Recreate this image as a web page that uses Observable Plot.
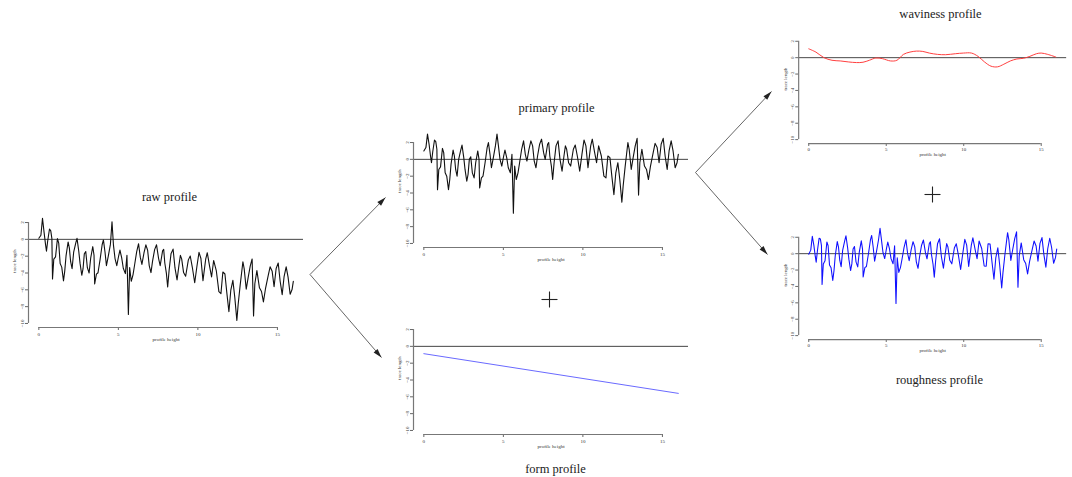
<!DOCTYPE html>
<html><head><meta charset="utf-8">
<script src="https://cdn.jsdelivr.net/npm/d3@7"></script>
<script src="https://cdn.jsdelivr.net/npm/@observablehq/plot@0.6"></script>
<style>
html,body{margin:0;padding:0;background:#fff;}
#page{position:relative;width:1072px;height:477px;overflow:hidden;}
.panel{position:absolute;}
.overlay{position:absolute;left:0;top:0;pointer-events:none;}
</style></head><body><div id="page"></div>
<script>
// ---- data ----
const xs = [0,0.13,0.23,0.33,0.42,0.48,0.56,0.67,0.75,0.82,
0.86,0.94,1.05,1.17,1.25,1.34,1.44,1.55,1.63,1.71,
1.84,1.92,2.00,2.09,2.19,2.32,2.40,2.51,2.59,2.70,
2.78,2.86,2.95,3.05,3.16,3.26,3.39,3.47,3.51,3.62,
3.72,3.85,3.98,4.06,4.16,4.25,4.37,4.50,4.60,4.69,
4.79,4.90,5.02,5.10,5.21,5.31,5.44,5.54,5.63,5.71,
5.81,5.92,6.02,6.15,6.27,6.38,6.48,6.61,6.73,6.84,
6.94,7.05,7.15,7.28,7.40,7.53,7.63,7.78,7.85,7.92,
8.02,8.10,8.19,8.31,8.44,8.56,8.69,8.81,8.90,8.98,
9.10,9.23,9.40,9.52,9.65,9.80,9.94,10.07,10.19,10.32,
10.49,10.59,10.74,10.86,10.99,11.16,11.32,11.45,11.57,11.70,
11.82,11.95,12.07,12.20,12.32,12.45,12.53,12.66,12.83,12.91,
13.04,13.16,13.29,13.41,13.50,13.58,13.71,13.87,14.00,14.12,
14.25,14.42,14.54,14.67,14.79,14.92,15.05,15.17,15.30,15.42,
15.55,15.67,15.80,15.92,16.00];

const rawValues = [0.13,0.49,2.5,0.83,-0.59,-1.41,-0.14,1.23,1.01,0.09,
-4.72,-2.35,-2.08,0.09,-0.44,-2.87,-3.30,-4.93,-3.75,-1.97,
-0.31,-1.04,-2.66,-3.49,-1.52,-0.45,0.12,-1.41,-2.83,-4.27,
-3.49,-1.71,-1.44,-3.37,-4.00,-2.23,-0.87,-1.89,-5.31,-4.14,
-3.97,-2.41,-0.64,-0.07,-1.50,-3.12,-1.96,-0.60,2.1,-0.65,
-2.28,-3.12,-1.95,-1.27,-2.21,-3.44,-4.07,-1.90,-8.93,-3.35,
-4.98,-4.22,-3.05,-1.48,-0.52,-2.15,-2.98,-1.62,-0.66,-1.29,
-3.12,-3.95,-2.58,-1.22,-0.65,-2.29,-3.12,-1.37,-1.19,-2.81,
-4.04,-5.66,-3.69,-1.72,-1.16,-3.40,-4.83,-3.07,-1.90,-2.32,
-3.95,-4.39,-2.44,-1.98,-3.32,-5.16,-3.20,-1.54,-2.28,-4.91,
-2.36,-1.59,-3.24,-4.47,-2.51,-3.76,-6.21,-6.45,-3.88,-4.12,
-6.36,-8.60,-6.03,-4.87,-6.90,-9.64,-7.77,-5.41,-2.66,-3.48,
-5.92,-4.55,-3.19,-2.33,-9.10,-5.28,-3.71,-5.76,-6.20,-7.44,
-5.87,-4.32,-3.26,-3.80,-5.63,-3.47,-2.81,-4.95,-6.58,-4.42,
-3.26,-4.49,-6.53,-5.97,-4.99];

const primaryValues = [1.0,1.4,3.0,1.8,0.4,-0.4,0.9,2.3,2.1,1.2,
-3.6,-1.2,-0.9,1.3,0.8,-1.6,-2.0,-3.6,-2.4,-0.6,
1.1,0.4,-1.2,-2.0,0.0,1.1,1.7,0.2,-1.2,-2.6,
-1.8,0.0,0.3,-1.6,-2.2,-0.4,1.0,0.0,-3.4,-2.2,
-2.0,-0.4,1.4,2.0,0.6,-1.0,0.2,1.6,3.0,1.6,
0.0,-0.8,0.4,1.1,0.2,-1.0,-1.6,0.6,-6.4,-0.8,
-2.4,-1.6,-0.4,1.2,2.2,0.6,-0.2,1.2,2.2,1.6,
-0.2,-1.0,0.4,1.8,2.4,0.8,0.0,1.8,2.0,0.4,
-0.8,-2.4,-0.4,1.6,2.2,0.0,-1.4,0.4,1.6,1.2,
-0.4,-0.8,1.2,1.7,0.4,-1.4,0.6,2.3,1.6,-1.0,
1.6,2.4,0.8,-0.4,1.6,0.4,-2.0,-2.2,0.4,0.2,
-2.0,-4.2,-1.6,-0.4,-2.4,-5.1,-3.2,-0.8,2.0,1.2,
-1.2,0.2,1.6,2.5,-4.25,-0.4,1.2,-0.8,-1.2,-2.4,
-0.8,0.8,1.9,1.4,-0.4,1.8,2.5,0.4,-1.2,1.0,
2.2,1.0,-1.0,-0.4,0.6];

const roughnessValues = [-0.08,0.43,2.12,1.01,-0.31,-1.05,0.35,1.89,1.80,0.99,
-3.76,-1.25,-0.86,1.42,0.97,-1.38,-1.72,-3.27,-2.06,-0.25,
1.47,0.79,-0.80,-1.59,0.44,1.57,2.18,0.71,-0.67,-2.06,
-1.25,0.57,0.88,-1.00,-1.61,0.18,1.57,0.56,-2.84,-1.71,
-1.57,-0.04,1.67,2.22,0.75,-0.91,0.25,1.67,3.09,1.71,
0.14,-0.60,0.67,1.41,0.57,-0.61,-1.24,0.95,-6.07,-0.51,
-2.29,-1.67,-0.65,0.77,1.69,0.02,-0.85,0.50,1.46,0.83,
-1.00,-1.79,-0.38,1.03,1.66,0.13,-0.63,1.24,1.46,-0.12,
-1.29,-2.86,-0.84,1.20,1.81,-0.38,-1.77,0.04,1.23,0.81,
-0.81,-1.24,0.73,1.21,-0.11,-1.93,0.04,1.74,1.04,-1.56,
1.04,1.93,0.47,-0.62,1.55,0.63,-1.51,-1.54,1.21,1.17,
-0.95,-3.12,-0.50,0.72,-1.38,-4.19,-2.35,-0.07,2.56,1.70,
-0.82,0.51,1.83,2.67,-4.10,-0.27,1.31,-0.73,-1.20,-2.47,
-0.95,0.53,1.54,0.94,-0.91,1.26,1.96,-0.09,-1.65,0.60,
1.88,0.75,-1.17,-0.49,0.55];

const wavX = [0,0.46,0.98,1.5,2.03,2.55,3.08,3.5,3.91,4.33,4.75,5.27,5.69,6.11,6.53,6.95,7.36,7.78,8.31,8.83,9.46,9.98,10.5,10.92,11.34,11.76,12.18,12.59,13.01,13.43,13.85,14.27,14.69,15.0,15.42,15.94];
const wavY = [1.08,0.68,0,-0.32,-0.4,-0.52,-0.6,-0.56,-0.32,-0.04,-0.12,-0.4,-0.32,0.4,0.68,0.8,0.76,0.56,0.4,0.36,0.48,0.56,0.56,0.16,-0.52,-1.04,-1.12,-0.8,-0.4,-0.16,-0.08,0.16,0.48,0.56,0.4,0.08];

const formX = [0, 16];
const formY = [-0.87, -5.59];

const xTicks = [0, 5, 10, 15];
const yTicks = [-10, -8, -6, -4, -2, 0, 2];
const xLabel = "profile height";
const yLabel = "trace length";

const titles = ["raw profile", "primary profile", "form profile", "waviness profile", "roughness profile"];

// ---- layout (page pixels) ----
const FW = 275, FH = 109;           // frame size
const ML = 32, MT = 6, MR = 6, MB = 34;
const panelLayout = [
  {left: 27.7, top: 218},   // raw
  {left: 413, top: 138},    // primary
  {left: 413, top: 325},    // form
  {left: 799, top: 36.7},   // waviness
  {left: 799, top: 233.3}   // roughness
];
const titlePos = [[169,196],[556,107],[555,468],[940,13],[939,379]];
const arrowPos = [
  {x1:309.5, y1:274, x2:385, y2:197},
  {x1:309.5, y1:274, x2:381, y2:357},
  {x1:695, y1:172, x2:771, y2:91},
  {x1:695, y1:172, x2:767, y2:254}
];
const plusPos = [[549,299],[932,194]];

const toRows = (X, Y) => X.map((x, i) => ({x, y: Y[i]}));
const series = [
  {rows: toRows(xs, rawValues), color: "#111", curve: "linear", w: 1.1},
  {rows: toRows(xs, primaryValues), color: "#111", curve: "linear", w: 1.1},
  {rows: toRows(formX, formY), color: "#6a6aff", curve: "linear", w: 1},
  {rows: toRows(wavX, wavY), color: "#ff3a3a", curve: "catmull-rom", w: 1},
  {rows: toRows(xs, roughnessValues), color: "#1010ff", curve: "linear", w: 1.1}
];

const page = document.getElementById("page");
const XD = [-0.65, 16.64], YD = [-10.48, 2.48];

series.forEach((s, i) => {
  const L = panelLayout[i];
  const fig = Plot.plot({
    width: ML + FW + MR, height: MT + FH + MB,
    marginLeft: ML, marginTop: MT, marginRight: MR, marginBottom: MB,
    x: {domain: XD},
    y: {domain: YD},
    style: {background: "transparent", fontFamily: "Liberation Serif, serif", overflow: "visible", color: "#333"},
    marks: [
      Plot.ruleY([0], {stroke: "#444", strokeWidth: 1}),
      Plot.line(s.rows, {x: "x", y: "y", stroke: s.color, strokeWidth: s.w, curve: s.curve}),
      Plot.axisX(xTicks, {anchor: "bottom", tickSize: 3, tickPadding: 1.5, fontSize: 5, label: null, stroke: "#666"}),
      Plot.ruleY([YD[0]], {x1: xTicks[0], x2: xTicks[xTicks.length - 1], stroke: "#777", strokeWidth: 1.2}),
      Plot.axisY(yTicks, {anchor: "left", tickSize: 3, tickPadding: 1.5, fontSize: 5, tickRotate: -90, label: null, stroke: "#666"}),
      Plot.ruleX([XD[0]], {y1: yTicks[0], y2: yTicks[yTicks.length - 1], stroke: "#777", strokeWidth: 1.2}),
      Plot.text([xLabel], {frameAnchor: "bottom", dy: 13, fontSize: 5, fill: "#333"}),
      Plot.text([yLabel], {frameAnchor: "left", dx: -14, rotate: -90, fontSize: 5, fill: "#333"})
    ]
  });
  const div = document.createElement("div");
  div.className = "panel";
  div.style.left = (L.left - ML) + "px";
  div.style.top = (L.top - MT) + "px";
  div.appendChild(fig);
  page.appendChild(div);
});

// overlay: titles, arrows, plus signs
const titleRows = titles.map((t, i) => ({t, x: titlePos[i][0], y: titlePos[i][1]}));
const plusSegs = plusPos.flatMap(([cx, cy]) => [
  {x1: cx - 8, y1: cy, x2: cx + 8, y2: cy},
  {x1: cx, y1: cy - 8, x2: cx, y2: cy + 8}
]);
const overlay = Plot.plot({
  width: 1072, height: 477, margin: 0,
  x: {domain: [0, 1072], range: [0, 1072], axis: null},
  y: {domain: [0, 477], range: [0, 477], axis: null},
  style: {background: "transparent", overflow: "visible"},
  marks: [
    Plot.link(arrowPos, {x1: "x1", y1: "y1", x2: "x2", y2: "y2", stroke: "#555", strokeWidth: 0.9}),
    Plot.vector(arrowPos, {x: "x2", y: "y2", rotate: d => Math.atan2(d.x2 - d.x1, d.y1 - d.y2) * 180 / Math.PI,
      length: 9, r: 2.6, shape: "spike", anchor: "end", fill: "#222", stroke: "none"}),
    Plot.link(plusSegs, {x1: "x1", y1: "y1", x2: "x2", y2: "y2", stroke: "#222", strokeWidth: 1.1}),
    Plot.text(titleRows, {x: "x", y: "y", text: "t", fontSize: 12.5, fontFamily: "Liberation Serif, serif", fill: "#222"})
  ]
});
const od = document.createElement("div");
od.className = "overlay";
od.appendChild(overlay);
page.appendChild(od);
</script></body></html>
